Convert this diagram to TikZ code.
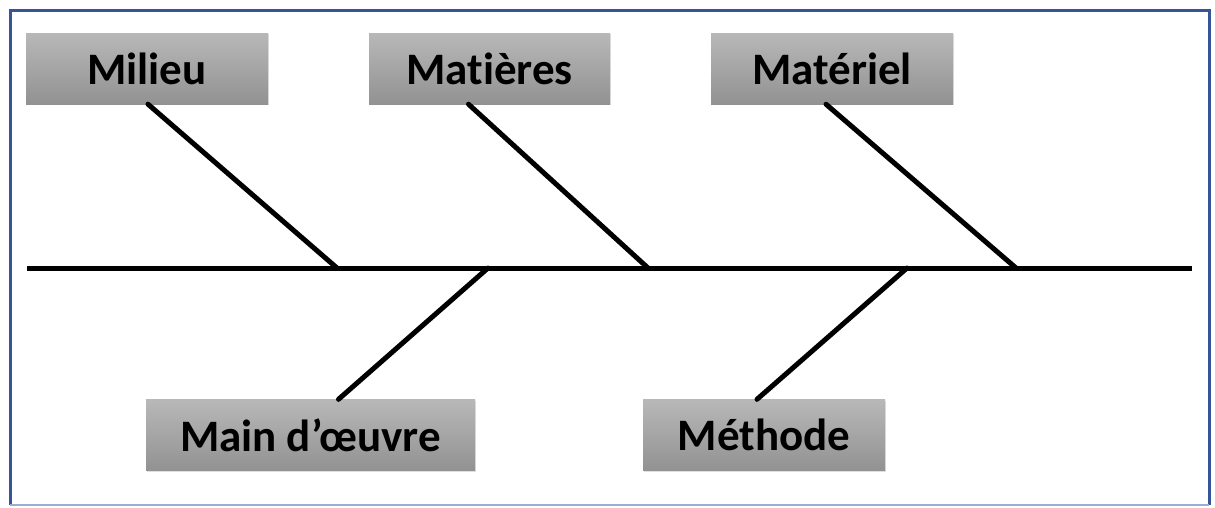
\documentclass[tikz,border=0pt]{standalone}
\usepackage{fontspec}
\setmainfont{Carlito}[Ligatures={NoCommon}]
\usetikzlibrary{shadows}
\definecolor{frameblue}{RGB}{55,85,150}
\definecolor{framelight}{RGB}{150,175,215}
\definecolor{boxtop}{RGB}{184,184,184}
\definecolor{boxbot}{RGB}{146,146,146}
\tikzset{
  catbox/.style={rectangle, top color=boxtop, bottom color=boxbot, draw=none,
    minimum height=71pt, inner sep=0pt, font=\fontsize{45}{45}\selectfont\bfseries,
    drop shadow={shadow xshift=1pt, shadow yshift=-1pt, opacity=0.25}},
  bone/.style={line width=5pt, black, line cap=round}
}
\begin{document}
\begin{tikzpicture}[x=1pt,y=-1pt]
\useasboundingbox (0,0) rectangle (1215,507);
\fill[white] (0,0) rectangle (1215,507);
% frame
\draw[frameblue, line width=3pt] (10,505) -- (10,10) -- (1209,10) -- (1209,505);
\draw[framelight, line width=2pt] (10,505) -- (1209,505);
% boxes
\node[catbox, minimum width=242pt] (milieu) at (147,68.5) {Milieu};
\node[catbox, minimum width=241pt] (matieres) at (489.5,68.5) {Matières};
\node[catbox, minimum width=242pt] (materiel) at (832,68.5) {Matériel};
\node[catbox, minimum width=329pt] (main) at (310.5,435) {Main d’œuvre};
\node[catbox, minimum width=242pt] (methode) at (764,435) {Méthode};
% spine
\coordinate (s0) at (27,268);
\coordinate (s1) at (1192,268);
\draw[bone, line cap=butt] (s0) -- (s1);
% bones
\coordinate (b1) at (337,268);
\coordinate (b2) at (648,268);
\coordinate (b3) at (1016,268);
\coordinate (b4) at (488,268);
\coordinate (b5) at (907,268);
\draw[bone] (milieu.south) ++(1,0) -- (b1);
\draw[bone] (matieres.south) ++(-21,0) -- (b2);
\draw[bone] (materiel.south) ++(-6,0) -- (b3);
\draw[bone] (b4) -- ([xshift=28pt]main.north);
\draw[bone] (b5) -- ([xshift=-7pt]methode.north);
\end{tikzpicture}
\end{document}
